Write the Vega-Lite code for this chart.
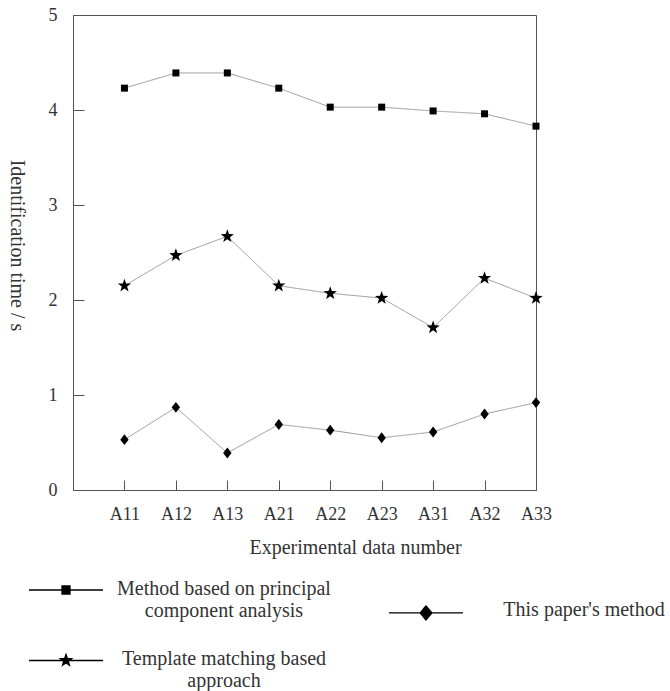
{
  "$schema": "https://vega.github.io/schema/vega-lite/v6.json",
  "width": 463,
  "height": 475,
  "autosize": {"type": "none"},
  "padding": {"left": 73, "top": 15, "right": 134, "bottom": 201},
  "background": "white",
  "config": {
    "font": "Liberation Serif",
    "view": {"stroke": "#555", "strokeWidth": 1},
    "axis": {
      "domainColor": "#555",
      "tickColor": "#555",
      "labelColor": "#333",
      "titleColor": "#333",
      "labelFont": "Liberation Serif",
      "titleFont": "Liberation Serif",
      "titleFontWeight": "normal",
      "grid": false
    }
  },
  "data": {
    "values": [
      {"sample": "A11", "method": "Method based on principal component analysis", "time": 4.23},
      {"sample": "A12", "method": "Method based on principal component analysis", "time": 4.39},
      {"sample": "A13", "method": "Method based on principal component analysis", "time": 4.39},
      {"sample": "A21", "method": "Method based on principal component analysis", "time": 4.23},
      {"sample": "A22", "method": "Method based on principal component analysis", "time": 4.03},
      {"sample": "A23", "method": "Method based on principal component analysis", "time": 4.03},
      {"sample": "A31", "method": "Method based on principal component analysis", "time": 3.99},
      {"sample": "A32", "method": "Method based on principal component analysis", "time": 3.96},
      {"sample": "A33", "method": "Method based on principal component analysis", "time": 3.83},
      {"sample": "A11", "method": "Template matching based approach", "time": 2.15},
      {"sample": "A12", "method": "Template matching based approach", "time": 2.47},
      {"sample": "A13", "method": "Template matching based approach", "time": 2.67},
      {"sample": "A21", "method": "Template matching based approach", "time": 2.15},
      {"sample": "A22", "method": "Template matching based approach", "time": 2.07},
      {"sample": "A23", "method": "Template matching based approach", "time": 2.02},
      {"sample": "A31", "method": "Template matching based approach", "time": 1.71},
      {"sample": "A32", "method": "Template matching based approach", "time": 2.23},
      {"sample": "A33", "method": "Template matching based approach", "time": 2.02},
      {"sample": "A11", "method": "This paper's method", "time": 0.53},
      {"sample": "A12", "method": "This paper's method", "time": 0.87},
      {"sample": "A13", "method": "This paper's method", "time": 0.39},
      {"sample": "A21", "method": "This paper's method", "time": 0.69},
      {"sample": "A22", "method": "This paper's method", "time": 0.63},
      {"sample": "A23", "method": "This paper's method", "time": 0.55},
      {"sample": "A31", "method": "This paper's method", "time": 0.61},
      {"sample": "A32", "method": "This paper's method", "time": 0.80},
      {"sample": "A33", "method": "This paper's method", "time": 0.92}
    ]
  },
  "encoding": {
    "x": {
      "field": "sample",
      "type": "ordinal",
      "scale": {"type": "point", "domain": ["", "A11", "A12", "A13", "A21", "A22", "A23", "A31", "A32", "A33"], "padding": 0},
      "axis": {
        "labelAngle": 0,
        "labelFontSize": 18,
        "tickSize": -10,
        "labelPadding": 25,
        "title": "Experimental data number",
        "titleFontSize": 20,
        "titleX": 282,
        "titleY": 57,
        "titleAlign": "center",
        "titleBaseline": "middle"
      }
    },
    "y": {
      "field": "time",
      "type": "quantitative",
      "scale": {"domain": [0, 5], "nice": false, "zero": true},
      "axis": {
        "values": [0, 1, 2, 3, 4, 5],
        "labelFontSize": 18,
        "labelFlush": false,
        "labelOverlap": false,
        "tickSize": -11,
        "labelPadding": 27,
        "title": "Identification time / s",
        "titleFontSize": 20,
        "titleAngle": 90,
        "titleX": -57,
        "titleY": 230,
        "titleAlign": "center",
        "titleBaseline": "middle"
      }
    }
  },
  "layer": [
    {
      "mark": {"type": "line", "color": "#999", "strokeWidth": 1},
      "encoding": {
        "strokeDash": {
          "field": "method",
          "type": "nominal",
          "scale": {
            "domain": ["Method based on principal component analysis", "Template matching based approach", "This paper's method"],
            "range": [[1, 0], [1, 0], [1, 0]]
          },
          "legend": {
            "orient": "none",
            "legendX": -45,
            "legendY": 535,
            "columns": 2,
            "direction": "vertical",
            "title": null,
            "symbolSize": 5476,
            "symbolStrokeWidth": 1.3,
            "symbolStrokeColor": "#000",
            "symbolFillColor": "#000",
            "labelFont": "Liberation Serif",
            "labelFontSize": 20,
            "labelColor": "#333",
            "labelLimit": 0,
            "labelAlign": "center",
            "labelOffset": 120,
            "labelLineHeight": 26,
            "columnPadding": 55,
            "rowPadding": -5,
            "labelExpr": "datum.label == 'Method based on principal component analysis' ? ['Method based on principal', 'component analysis'] : datum.label == 'Template matching based approach' ? ['Template matching based', 'approach'] : datum.label",
            "encode": {
              "symbols": {
                "update": {
                  "shape": {"signal": "datum.index == 0 ? 'M-1,0H1M-0.108,-0.108H0.108V0.108H-0.108Z' : datum.index == 1 ? 'M-1,0H1M0,-0.16L0.038,-0.052L0.152,-0.049L0.061,0.02L0.094,0.129L0,0.064L-0.094,0.129L-0.061,0.02L-0.152,-0.049L-0.038,-0.052Z' : 'M-1,0H1M0,-0.19L0.16,0L0,0.19L-0.16,0Z'"},
                  "y": {"signal": "datum.index == 2 ? 62.5 : 37.5"},
                  "fill": {"value": "#000"},
                  "stroke": {"value": "#000"},
                  "strokeWidth": {"value": 1.3},
                  "opacity": {"value": 1}
                }
              },
              "labels": {
                "update": {
                  "dy": {"signal": "datum.index == 2 ? 22 : -2"}
                }
              }
            }
          }
        }
      }
    },
    {
      "mark": {"type": "point", "filled": true, "color": "#000", "opacity": 1, "size": 196},
      "encoding": {
        "shape": {
          "field": "method",
          "type": "nominal",
          "scale": {
            "domain": ["This paper's method", "Method based on principal component analysis", "Template matching based approach"],
            "range": ["M0,-0.78L0.6,0L0,0.78L-0.6,0Z", "M-0.5,-0.5H0.5V0.5H-0.5Z", "M0,-1L0.235,-0.324L0.951,-0.309L0.38,0.124L0.588,0.809L0,0.4L-0.588,0.809L-0.38,0.124L-0.951,-0.309L-0.235,-0.324Z"]
          },
          "legend": null
        }
      }
    }
  ]
}
